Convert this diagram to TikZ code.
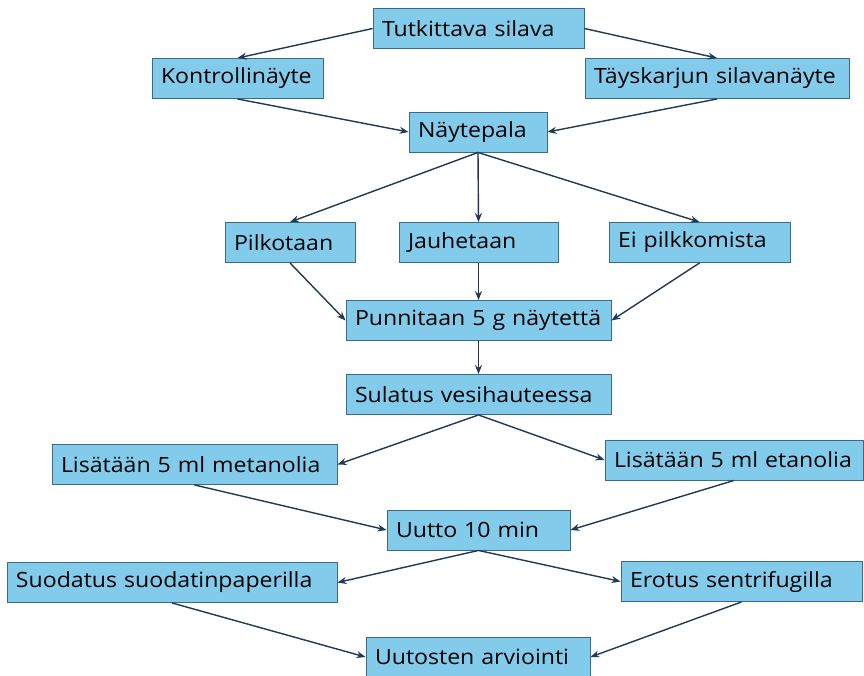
\documentclass[tikz,border=0pt]{standalone}
\usepackage{fontspec}
\setmainfont{Open Sans}[FakeStretch=1.1]
\usetikzlibrary{arrows.meta}
\definecolor{boxfill}{HTML}{83CBEB}
\definecolor{boxline}{HTML}{3D6A88}
\definecolor{arrowcol}{HTML}{1F3A56}
\tikzset{
  box/.style={draw=boxline, fill=boxfill, line width=0.9pt, minimum height=40pt,
    inner xsep=9pt, inner ysep=0pt, align=left, text width=#1-18pt,
    font=\fontsize{21}{24}\selectfont},
  flow/.style={draw=arrowcol, line width=1.4pt, -{Stealth[length=9pt,width=7pt]}}
}

\begin{document}
\begin{tikzpicture}[x=1pt,y=-1pt]
\clip (0,0) rectangle (864,675);
\fill[white] (0,0) rectangle (864,675);
% boxes
\node[box=211pt] (tutk) at (478.5,28.5) {Tutkittava silava};
\node[box=171pt] (kontr) at (237.5,78.5) {Kontrollinäyte};
\node[box=264pt] (tays) at (717,78.5) {\mbox{Täyskarjun silavanäyte}};
\node[box=138pt] (nayte) at (478,132) {Näytepala};
\node[box=130pt] (pilk) at (290,242.5) {Pilkotaan};
\node[box=159pt] (jauh) at (478.5,242.5) {Jauhetaan};
\node[box=181pt] (eipilk) at (699.5,242.5) {Ei pilkkomista};
\node[box=265pt] (punn) at (478.5,320.5) {\mbox{Punnitaan 5 g näytettä}};
\node[box=265pt] (sul) at (478.5,394.5) {Sulatus vesihauteessa};
\node[box=285pt] (meta) at (194.5,464.5) {\mbox{Lisätään 5 ml metanolia}};
\node[box=258pt] (eta) at (734,460) {\mbox{Lisätään 5 ml etanolia}};
\node[box=183pt] (uutto) at (478.5,530) {Uutto 10 min};
\node[box=330pt] (suod) at (172,582.5) {Suodatus suodatinpaperilla};
\node[box=241pt] (erot) at (741.5,581.5) {Erotus sentrifugilla};
\node[box=224pt] (arvi) at (478,657) {Uutosten arviointi};
% arrows
\draw[flow] (tutk.west) -- (kontr.north);
\draw[flow] (tutk.east) -- (tays.north);
\draw[flow] (kontr.south) -- (nayte.west);
\draw[flow] (tays.south) -- (nayte.east);
\foreach \t in {pilk,jauh,eipilk}
  \draw[flow] (nayte.south) -- (\t.north);
\draw[flow] (pilk.south) -- (punn.west);
\draw[flow] (jauh.south) -- (punn.north);
\draw[flow] (eipilk.south) -- (punn.east);
\draw[flow] (punn.south) -- (sul.north);
\draw[flow] (sul.south) -- (meta.east);
\draw[flow] (sul.south) -- (eta.west);
\draw[flow] (meta.south) -- (uutto.west);
\draw[flow] (eta.south) -- (uutto.east);
\draw[flow] (uutto.south) -- (suod.east);
\draw[flow] (uutto.south) -- (erot.west);
\draw[flow] (suod.south) -- (arvi.west);
\draw[flow] (erot.south) -- (arvi.east);
\end{tikzpicture}
\end{document}
